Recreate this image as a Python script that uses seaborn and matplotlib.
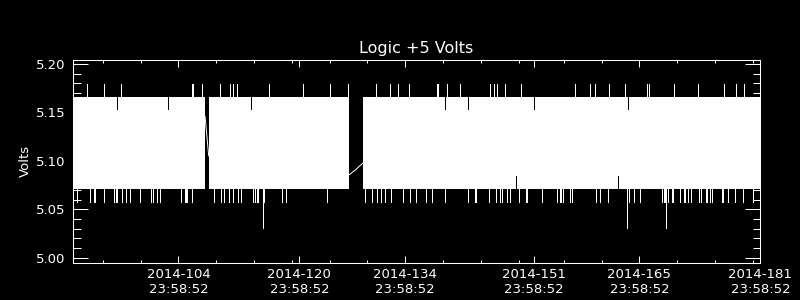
import matplotlib
matplotlib.use("Agg")
import matplotlib.pyplot as plt
import seaborn as sns
import pandas as pd
from matplotlib.ticker import FixedLocator, FixedFormatter

# ---------------- data ----------------
title = "Logic +5 Volts"
ylabel = "Volts"
tick_year = 2014
tick_doys = [104, 120, 134, 151, 165, 181]
tick_time = "23:58:52"
minor_doys = [94, 99, 109, 114, 119, 124, 129, 139, 144, 149, 155, 160, 170, 175, 180]
x_start = 91.0
x_end = 182.0
y_lo = 4.9948
y_hi = 5.2041
y_major = [5.00, 5.05, 5.10, 5.15, 5.20]
y_minor = [5.01, 5.02, 5.03, 5.04, 5.06, 5.07, 5.08, 5.09, 5.11, 5.12, 5.13, 5.14,
           5.16, 5.17, 5.18, 5.19]

# continuous coverage of the fast-oscillating signal (min/max envelope)
band_starts = [91.0, 109.00, 129.42]
band_ends = [108.51, 127.56, 182.0]
band_low = 5.071
band_high = 5.166

up_spike_doy = [92.93, 95.18, 97.43, 106.83, 106.96, 108.07, 110.53, 111.78, 112.25, 112.78,
                116.94, 121.52, 125.09, 127.47, 131.18, 133.03, 134.09, 135.54, 139.25, 139.38,
                140.57, 142.29, 146.26, 146.79, 147.19, 148.25, 150.36, 157.51, 159.49, 160.16,
                162.01, 164.13, 167.04, 167.26, 170.61, 173.79, 177.23, 178.82, 179.87]
up_spike_val = 5.1794

down_spike_doy = [91.61, 93.33, 93.86, 93.99, 95.18, 96.51, 96.77, 96.86, 97.56, 98.01, 98.62,
                  99.95, 101.40, 101.67, 102.20, 102.59, 105.37, 105.90, 106.03, 106.17, 106.83,
                  109.74, 110.66, 111.06, 111.72, 112.25, 112.91, 113.31, 114.90, 115.16, 115.43,
                  115.56, 116.35, 118.74, 119.27, 124.69, 129.72, 130.65, 131.31, 131.84, 132.37,
                  133.16, 134.75, 135.68, 136.47, 137.79, 138.59, 140.31, 143.35, 144.28, 144.37,
                  146.13, 147.06, 147.59, 147.85, 148.51, 148.91, 150.10, 151.03, 151.16, 153.14,
                  155.13, 155.53, 155.66, 155.92, 156.85, 157.11, 160.29, 160.82, 161.88, 164.66,
                  165.32, 166.11, 169.02, 169.29, 169.42, 169.82, 170.35, 170.48, 171.40, 171.93,
                  172.06, 172.46, 172.86, 173.92, 174.18, 174.85, 174.98, 175.37, 175.64, 176.96,
                  177.09, 177.76, 178.68, 179.74, 181.07]
down_spike_val = 5.0575

deep_dip_doy = [116.22, 164.39, 169.55]
deep_dip_val = [5.031, 5.031, 5.031]

top_notch_doy = [96.90, 103.65, 114.63, 140.31, 143.35, 152.08, 164.52]
top_notch_val = 5.153
bottom_notch_doy = [149.70, 163.20]
bottom_notch_val = 5.0844

gap1_doy = [108.51, 108.75, 109.00]
gap1_val = [5.146, 5.126, 5.105]
gap2_doy = [127.56, 128.49, 129.42]
gap2_val = [5.0854, 5.0912, 5.0978]

# ---------------- style ----------------
sns.set_theme(style="ticks", rc={
    "figure.facecolor": "black",
    "axes.facecolor": "black",
    "axes.edgecolor": "white",
    "axes.labelcolor": "white",
    "text.color": "white",
    "xtick.color": "white",
    "ytick.color": "white",
    "axes.linewidth": 0.75,
})
plt.rcParams["font.family"] = ["DejaVu Sans"]

LW = 0.72

fig = plt.figure(figsize=(8, 3), dpi=100, facecolor="black")
ax = fig.add_axes([0.0909, 0.1243, 0.8595, 0.6757])
ax.set_facecolor("black")

frac = (23 * 3600 + 58 * 60 + 52) / 86400.0

# band (envelope of the dense oscillation)
for s, e in zip(band_starts, band_ends):
    ax.fill_between([s, e], [band_low, band_low], [band_high, band_high],
                    color="white", lw=0, antialiased=False)

# notches in the envelope
ax.vlines(top_notch_doy, top_notch_val, band_high, colors="black", lw=LW, antialiased=False)
ax.vlines(bottom_notch_doy, band_low, bottom_notch_val, colors="black", lw=LW, antialiased=False)

# spikes
ax.vlines(up_spike_doy, band_high, up_spike_val, colors="white", lw=LW, antialiased=False)
ax.vlines(down_spike_doy, down_spike_val, band_low, colors="white", lw=LW, antialiased=False)
ax.vlines(deep_dip_doy, deep_dip_val, band_low, colors="white", lw=LW, antialiased=False)

# line segments across the data gaps
gaps = pd.DataFrame({
    "doy": gap1_doy + gap2_doy,
    "volts": gap1_val + gap2_val,
    "seg": ["a"] * len(gap1_doy) + ["b"] * len(gap2_doy),
})
sns.lineplot(data=gaps, x="doy", y="volts", units="seg", estimator=None,
             color="white", lw=LW, ax=ax, legend=False)

ax.set_xlim(x_start, x_end)
ax.set_ylim(y_lo, y_hi)

ax.xaxis.set_major_locator(FixedLocator([d + frac for d in tick_doys]))
ax.xaxis.set_major_formatter(FixedFormatter(
    [f"{tick_year}-{d:03d}\n{tick_time}" for d in tick_doys]))
ax.xaxis.set_minor_locator(FixedLocator([d + frac for d in minor_doys]))
ax.yaxis.set_major_locator(FixedLocator(y_major))
ax.yaxis.set_major_formatter(FixedFormatter([f"{v:.2f}" for v in y_major]))
ax.yaxis.set_minor_locator(FixedLocator(y_minor))

ax.tick_params(axis="x", which="major", direction="in", length=5, width=LW,
               top=True, bottom=True, labelsize=9.5, pad=4, colors="white")
ax.tick_params(axis="x", which="minor", direction="in", length=2.5, width=LW,
               top=True, bottom=True, colors="white")
ax.tick_params(axis="y", which="major", direction="in", length=10.6, width=LW,
               left=True, right=True, labelsize=9.5, pad=5, colors="white")
ax.tick_params(axis="y", which="minor", direction="in", length=5.4, width=LW,
               left=True, right=True, colors="white")

for sp in ax.spines.values():
    sp.set_visible(True)
    sp.set_color("white")

ax.set_xlabel("")
ax.set_ylabel(ylabel, fontsize=9.5, color="white", labelpad=3)
ax.set_title(title, fontsize=11.5, color="white", pad=5)

fig.savefig("out.png", dpi=100, facecolor="black")
